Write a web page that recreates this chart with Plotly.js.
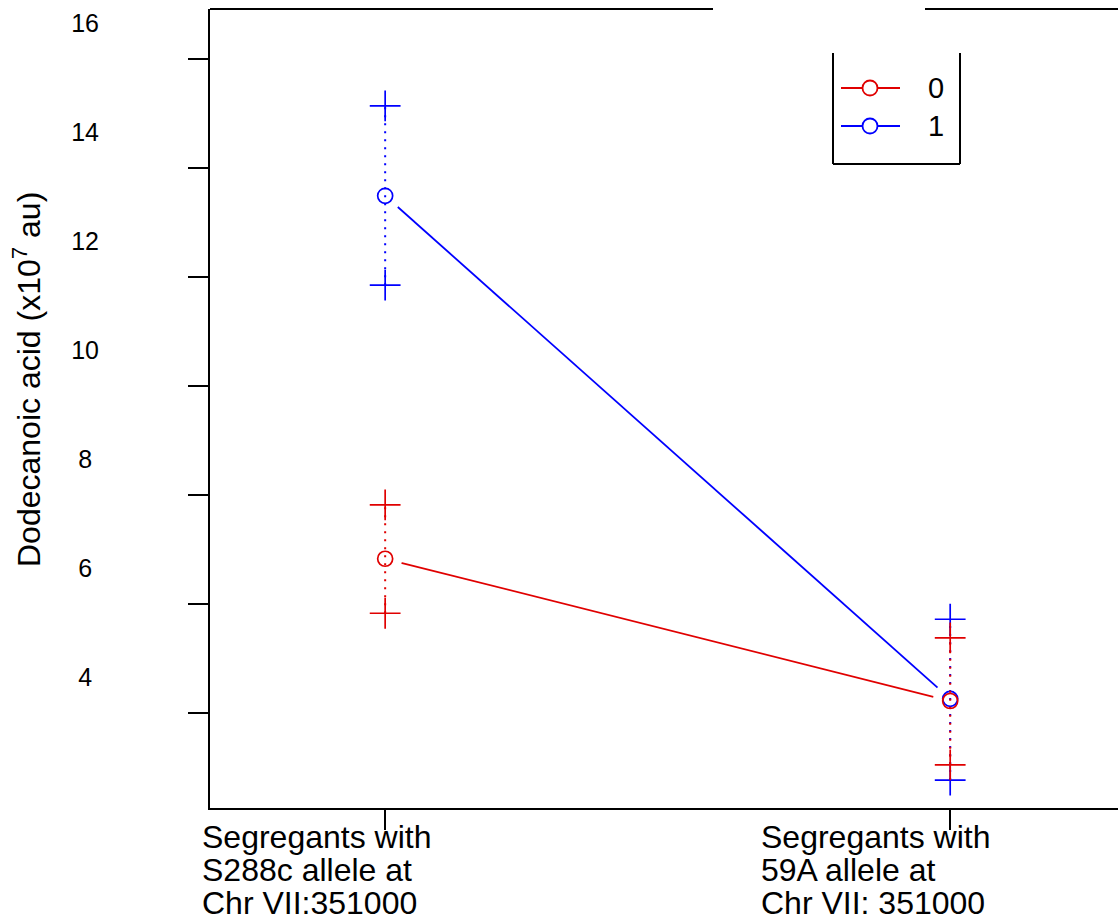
<!DOCTYPE html>
<html>
<head>
<meta charset="utf-8">
<script src="https://cdn.plot.ly/plotly-3.0.1.min.js"></script>
<style>html,body{margin:0;padding:0;background:#fff;}#chart{width:1118px;height:921px;}</style>
</head>
<body>
<div id="chart"></div>
<script>
// ---- data ----
const categories = [1, 2];
const categoryLabels = [["Segregants with", "S288c allele at", "Chr VII:351000"],
                        ["Segregants with", "59A allele at", "Chr VII: 351000"]];
const seriesNames = ["0", "1"];
const mean0 = [6.83, 4.22];
const low0  = [5.83, 3.05];
const high0 = [7.82, 5.38];
const mean1 = [13.49, 4.26];
const low1  = [11.85, 2.77];
const high1 = [15.14, 5.72];
const yTickVals = [4, 6, 8, 10, 12, 14, 16];
const yTickText = ["4", "6", "8", "10", "12", "14", "16"];

// ---- styles ----
const RED = "#e00000", BLUE = "#0000ff";
const FONT = "Liberation Sans, Arial, Helvetica, sans-serif";
const yRange = [2.257, 16.917];
const labelShift = 0.66;
const labelXShift = [-185, -191];
const labelLineY = [837, 870, 903];

const traces = [];
function addSeries(mean, color) {
  traces.push({x: categories, y: mean, mode: "lines", line: {color: color, width: 1.8},
               hoverinfo: "skip", showlegend: false});
}
function addMask(mean) {
  traces.push({x: categories, y: mean, mode: "markers",
               marker: {symbol: "circle", size: 34, color: "#ffffff", line: {width: 0}},
               hoverinfo: "skip", showlegend: false});
}
function addBars(mean, low, high, color) {
  for (let i = 0; i < categories.length; i++) {
    traces.push({x: [categories[i], categories[i]], y: [low[i], high[i]], mode: "lines",
                 line: {color: color, width: 2, dash: "2px,6px"},
                 hoverinfo: "skip", showlegend: false});
  }
  traces.push({x: categories.concat(categories), y: low.concat(high), mode: "markers",
               marker: {symbol: "cross-thin-open", size: 22, color: color, line: {color: color, width: 1.7}},
               hoverinfo: "skip", showlegend: false});
  traces.push({x: categories, y: mean, mode: "markers",
               marker: {symbol: "circle-open", size: 15, color: color, line: {color: color, width: 1.7}},
               hoverinfo: "skip", showlegend: false});
}
addSeries(mean0, RED);
addSeries(mean1, BLUE);
addMask(mean0);
addMask(mean1);
addBars(mean1, low1, high1, BLUE);
addBars(mean0, low0, high0, RED);

// dummy trace to activate yaxis2 (labels only)
traces.push({x: [categories[0]], y: [yTickVals[0]], yaxis: "y2", mode: "markers",
             marker: {opacity: 0}, hoverinfo: "skip", showlegend: false});

const annotations = [];
categories.forEach((c, i) => {
  categoryLabels[i].forEach((line, j) => {
    annotations.push({x: c, xref: "x", xanchor: "left", xshift: labelXShift[i],
                      y: 0, yref: "paper", yanchor: "middle", yshift: -(labelLineY[j] - 808),
                      text: line, showarrow: false, align: "left",
                      font: {family: FONT, size: 32, color: "#000"}});
  });
});
annotations.push({x: -0.2015, xref: "paper", xanchor: "center",
                  y: 0.5357, yref: "paper", yanchor: "middle",
                  text: "Dodecanoic acid (x10<sup>7</sup> au)", textangle: -90, showarrow: false,
                  font: {family: FONT, size: 32, color: "#000"}});

// legend (manual)
const px = v => (v - 210) / 908;
const py = v => (808 - v) / 799;
const legendRows = [{name: seriesNames[0], color: RED, y: 88}, {name: seriesNames[1], color: BLUE, y: 126}];
const shapes = [
  {type: "line", xref: "paper", yref: "paper", x0: 0, x1: px(713), y0: 1, y1: 1, line: {color: "#000", width: 2}},
  {type: "line", xref: "paper", yref: "paper", x0: px(925), x1: 1, y0: 1, y1: 1, line: {color: "#000", width: 2}},
  {type: "line", xref: "paper", yref: "paper", x0: px(833), x1: px(833), y0: py(164), y1: py(53), line: {color: "#000", width: 2}},
  {type: "line", xref: "paper", yref: "paper", x0: px(960), x1: px(960), y0: py(164), y1: py(53), line: {color: "#000", width: 2}},
  {type: "line", xref: "paper", yref: "paper", x0: px(833), x1: px(960), y0: py(164), y1: py(164), line: {color: "#000", width: 2}}
];
legendRows.forEach(r => {
  shapes.push({type: "line", xref: "paper", yref: "paper", x0: px(841), x1: px(900), y0: py(r.y), y1: py(r.y),
               line: {color: r.color, width: 1.8}});
  shapes.push({type: "circle", xref: "paper", yref: "paper", xsizemode: "pixel", ysizemode: "pixel",
               xanchor: px(870), yanchor: py(r.y), x0: -7.5, x1: 7.5, y0: -7.5, y1: 7.5,
               fillcolor: "#ffffff", line: {color: r.color, width: 1.8}});
  annotations.push({x: px(926), xref: "paper", xanchor: "left", y: py(r.y), yref: "paper", yanchor: "middle",
                    text: r.name, showarrow: false, font: {family: FONT, size: 29, color: "#000"}});
});

const layout = {
  width: 1118, height: 921,
  margin: {l: 210, r: 0, t: 9, b: 113, pad: 0},
  paper_bgcolor: "#fff", plot_bgcolor: "#fff",
  showlegend: false,
  font: {family: FONT, color: "#000"},
  xaxis: {range: [0.690, 2.297], tickvals: categories, ticktext: ["", ""], ticks: "outside", ticklen: 20,
          tickwidth: 2, tickcolor: "#000", showline: true, linecolor: "#000", linewidth: 2,
          showgrid: false, zeroline: false, fixedrange: true},
  yaxis: {range: yRange, tickvals: yTickVals, ticktext: yTickVals.map(() => ""), ticks: "outside", ticklen: 20,
          tickwidth: 2, tickcolor: "#000", showline: true, linecolor: "#000", linewidth: 2,
          showgrid: false, zeroline: false, fixedrange: true},
  yaxis2: {overlaying: "y", side: "left", range: [yRange[0] - labelShift, yRange[1] - labelShift],
           tickvals: yTickVals, ticktext: yTickText.map(t => t.length === 1 ? t + "\u00A0" : t),
           ticks: "outside", ticklen: 105, tickcolor: "rgba(0,0,0,0)", showline: false,
           showgrid: false, zeroline: false, fixedrange: true,
           tickfont: {family: FONT, size: 25, color: "#000"}},
  shapes: shapes,
  annotations: annotations
};
Plotly.newPlot("chart", traces, layout, {staticPlot: true});
</script>
</body>
</html>
